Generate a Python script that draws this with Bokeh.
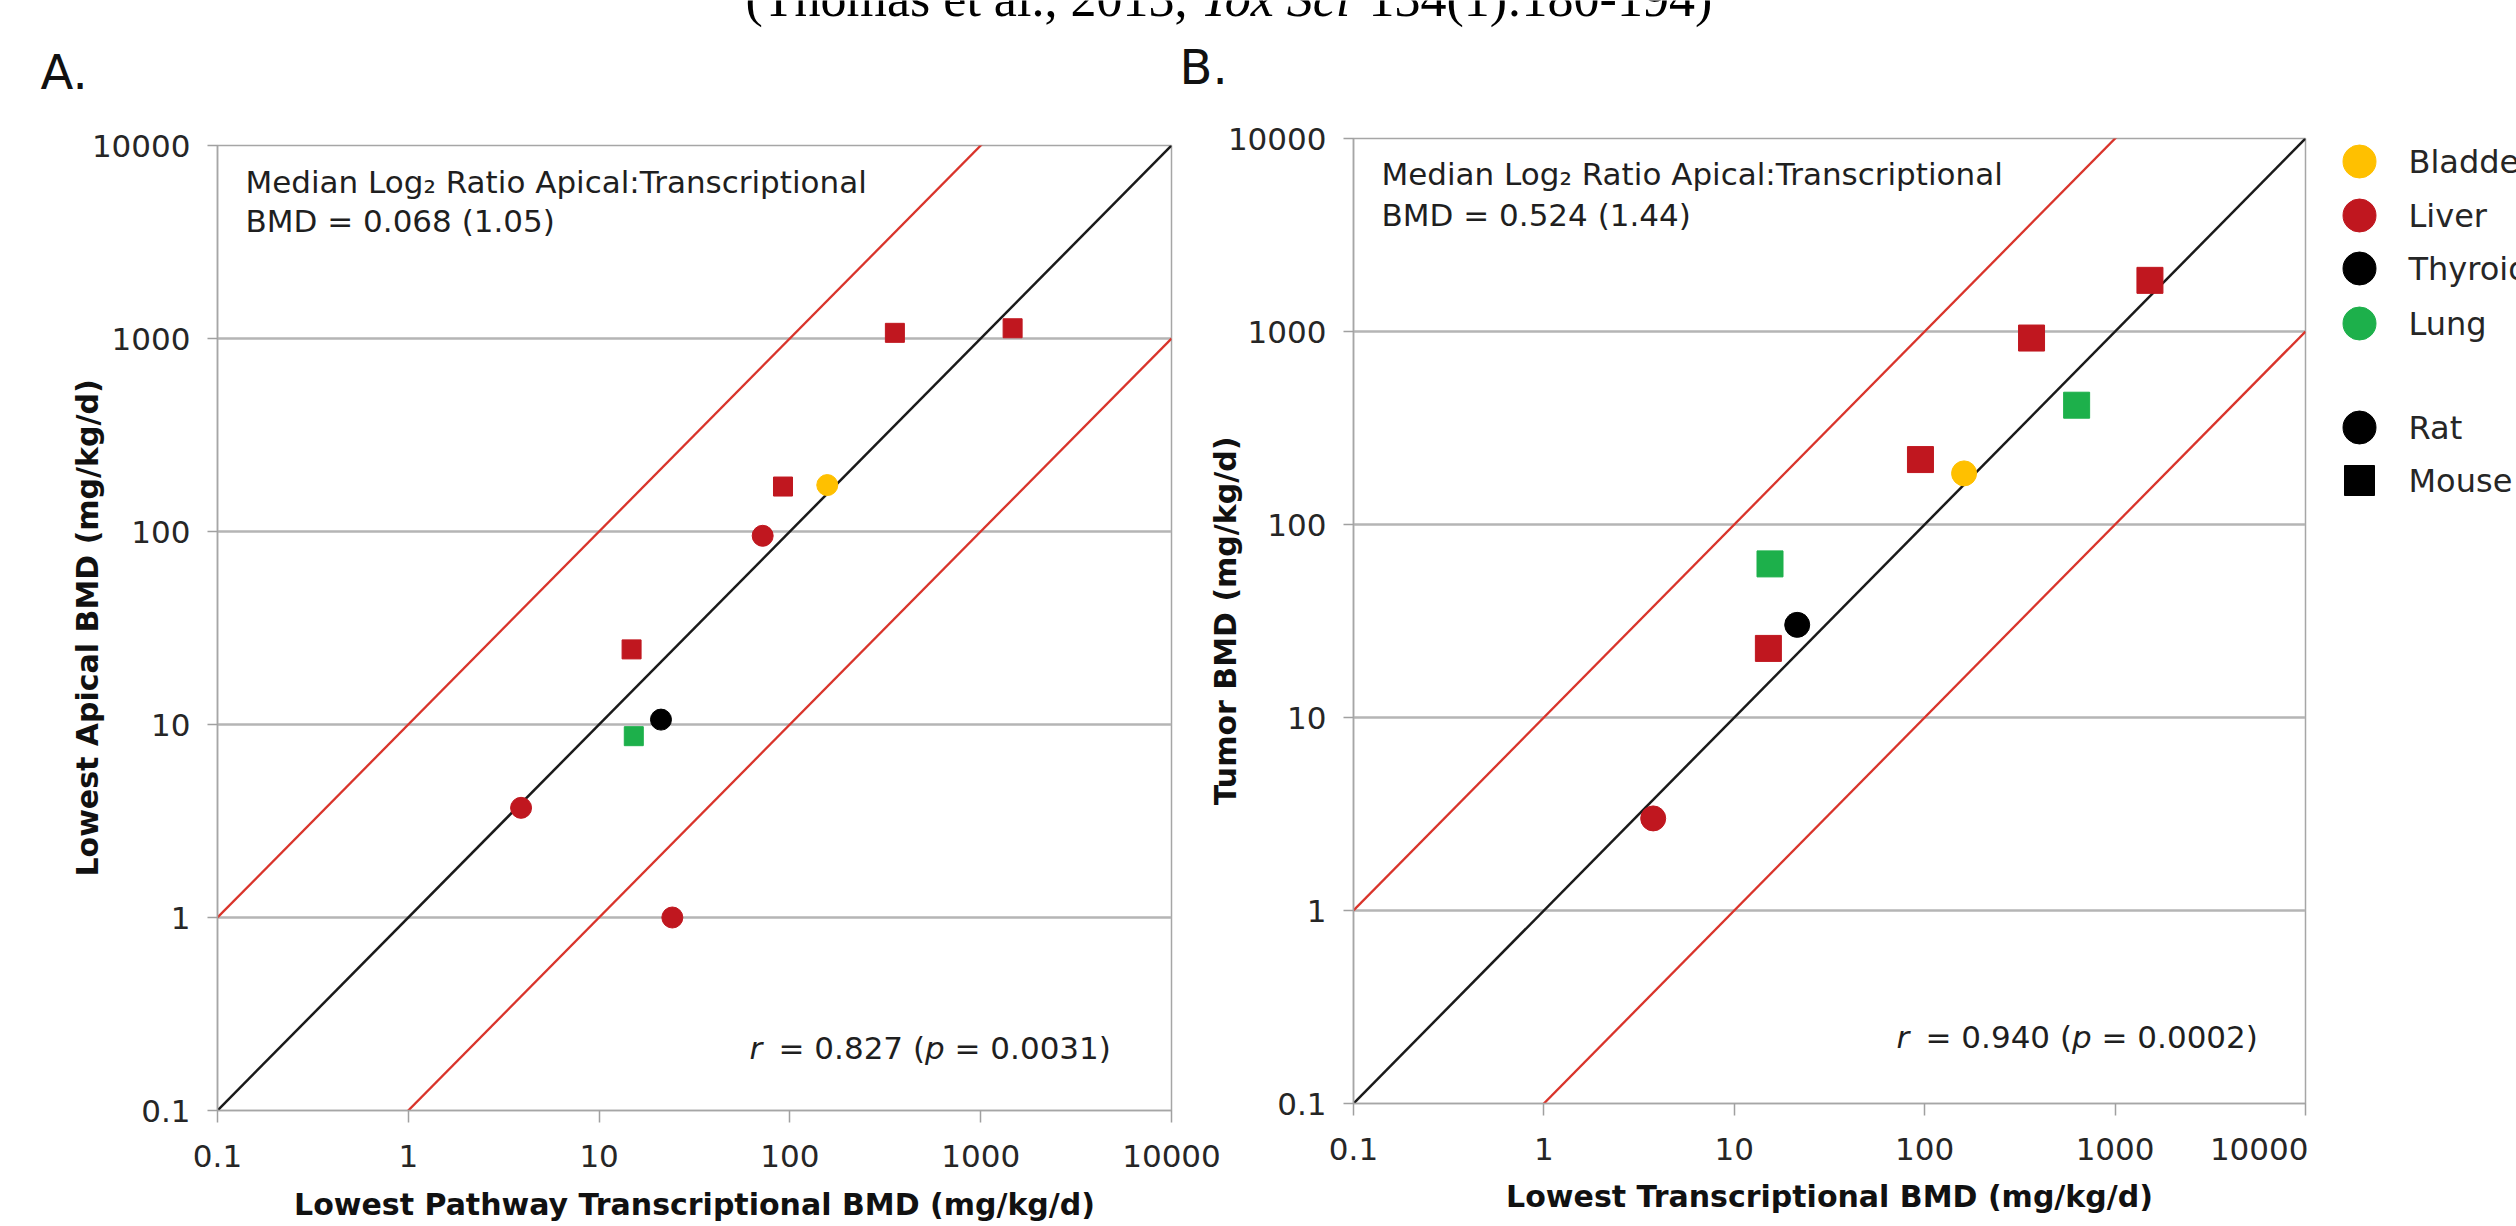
import math
from bokeh.plotting import figure
from bokeh.models import ColumnDataSource, FixedTicker, Label, Range1d
from bokeh.layouts import row, column
from bokeh.core.properties import value
from bokeh.embed import file_html
from bokeh.resources import INLINE

# ---------------- data ----------------
TICK_VALUES = [0.1, 1, 10, 100, 1000, 10000]
TICK_LABELS = ["0.1", "1", "10", "100", "1000", "10000"]
TISSUES = ["Bladder", "Liver", "Thyroid", "Lung"]
SPECIES = ["Rat", "Mouse"]

A_X = [355, 1470, 92, 157, 72, 14.8, 21.1, 15.2, 3.9, 24.2]
A_Y = [1070, 1130, 171, 174, 95, 24.5, 10.6, 8.7, 3.7, 1.0]
A_TISSUE = ["Liver", "Liver", "Liver", "Bladder", "Liver", "Liver", "Thyroid", "Lung", "Liver", "Liver"]
A_SPECIES = ["Mouse", "Mouse", "Mouse", "Rat", "Rat", "Mouse", "Rat", "Mouse", "Rat", "Rat"]

B_X = [1524, 364, 628, 95, 161, 15.4, 21.4, 15.1, 3.75]
B_Y = [1841, 925, 415, 217, 184, 62.5, 30.2, 22.8, 3.0]
B_TISSUE = ["Liver", "Liver", "Lung", "Liver", "Bladder", "Lung", "Thyroid", "Liver", "Liver"]
B_SPECIES = ["Mouse", "Mouse", "Mouse", "Mouse", "Rat", "Mouse", "Rat", "Mouse", "Rat"]

REF_X = [0.1, 10000]
REF_FACTORS = [10, 1, 0.1]

TITLE_PARTS = ["(Thomas et al., 2013,", "Tox Sci", "134(1):180-194)"]
PANEL_LETTERS = ["A.", "B."]
A_NOTE = ["Median Log\u2082 Ratio Apical:Transcriptional", "BMD = 0.068 (1.05)"]
B_NOTE = ["Median Log\u2082 Ratio Apical:Transcriptional", "BMD = 0.524 (1.44)"]
A_STAT = ["r", "= 0.827 (", "p", "= 0.0031)"]
B_STAT = ["r", "= 0.940 (", "p", "= 0.0002)"]
A_XLABEL = "Lowest Pathway Transcriptional BMD (mg/kg/d)"
A_YLABEL = "Lowest Apical BMD (mg/kg/d)"
B_XLABEL = "Lowest Transcriptional BMD (mg/kg/d)"
B_YLABEL = "Tumor BMD (mg/kg/d)"

# ---------------- styles / layout ----------------
FONT = "DejaVu Sans"
TEXT = "#1f1f1f"
TISSUE_COLORS = {"Bladder": "#FFC000", "Liver": "#C0171F", "Thyroid": "#000000", "Lung": "#1DB04B"}
SPECIES_MARKERS = {"Rat": "circle", "Mouse": "square"}
PAGE_W = 2516
ROW_TOP = 100          # title strip height
FIG_H = 1119
BORDER_TOP = 38
BORDER_BOTTOM = 116
STAT_OFFSETS = [0, 29, 175.5, 205]
BASELINE_FIX = 0.42    # renderer places alphabetic baseline ~0.42em lower


def add_text(p, x, y_px, text, size, to_data, align="left", style="normal",
             font=FONT, color=TEXT):
    """y_px: wanted baseline in page pixels; to_data converts page px -> data."""
    y = to_data(y_px - BASELINE_FIX * size)
    p.add_layout(Label(x=x, y=y, text=text, text_font=font, text_font_size=f"{size}px",
                       text_font_style=style, text_align=align, text_baseline="alphabetic",
                       text_color=color))


def panel(cx, top, width, L, R, xs, ys, tissues, species, sizes,
          note, note_pos, stat, stat_pos, xlabel, ylabel, xl_standoff, yl_standoff):
    T = top + BORDER_TOP
    B = top + FIG_H - BORDER_BOTTOM
    fx = lambda px: 10 ** (-1 + 5.0 * (px - L) / (R - L))
    fy = lambda py: 10 ** (-1 + 5.0 * (B - py) / (B - T))
    p = figure(width=width, height=FIG_H, x_axis_type="log", y_axis_type="log",
               x_range=Range1d(0.1, 10000), y_range=Range1d(0.1, 10000),
               output_backend="svg", toolbar_location=None, title=None,
               min_border_left=L - cx, min_border_right=cx + width - R,
               min_border_top=BORDER_TOP, min_border_bottom=BORDER_BOTTOM,
               border_fill_color=None, outline_line_color="#A6A6A6", outline_line_width=1.5)
    for ax in (p.xaxis[0], p.yaxis[0]):
        ax.ticker = FixedTicker(ticks=TICK_VALUES)
        ax.major_label_overrides = dict(zip(TICK_VALUES, TICK_LABELS))
        ax.minor_tick_line_color = None
        ax.major_tick_in = 0
        ax.major_tick_line_color = "#A0A0A0"
        ax.major_tick_line_width = 1.5
        ax.axis_line_color = "#A6A6A6"
        ax.axis_line_width = 1.5
        ax.major_label_text_font = FONT
        ax.major_label_text_font_size = "31px"
        ax.major_label_text_color = "#262626"
        ax.axis_label_text_font = FONT
        ax.axis_label_text_font_size = "30px"
        ax.axis_label_text_font_style = "bold"
        ax.axis_label_text_color = "#111111"
    p.xaxis.major_tick_out = 12
    p.yaxis.major_tick_out = 10
    p.xaxis.major_label_standoff = 22
    p.yaxis.major_label_standoff = 17
    p.xaxis.axis_label = xlabel
    p.yaxis.axis_label = ylabel
    p.xaxis.axis_label_standoff = xl_standoff
    p.yaxis.axis_label_standoff = yl_standoff
    p.xgrid.visible = False
    p.ygrid.ticker = FixedTicker(ticks=TICK_VALUES)
    p.ygrid.grid_line_color = "#B5B5B5"
    p.ygrid.grid_line_width = 2.5

    for k, col, w in zip(REF_FACTORS, ["#D9342B", "#1A1A1A", "#D9342B"], [2.3, 2.5, 2.3]):
        p.line(REF_X, [k * x for x in REF_X], line_color=col, line_width=w)

    src = ColumnDataSource(dict(
        x=xs, y=ys,
        color=[TISSUE_COLORS[t] for t in tissues],
        marker=[SPECIES_MARKERS[s] for s in species],
        size=[sizes[s] for s in species]))
    p.scatter("x", "y", source=src, marker="marker", size="size",
              fill_color="color", line_color="color")

    nx, ny1, ny2 = note_pos
    add_text(p, fx(nx), ny1, note[0], 31, fy)
    add_text(p, fx(nx), ny2, note[1], 31, fy)
    sx, sy = stat_pos
    for txt, off in zip(stat, STAT_OFFSETS):
        style = "italic" if txt in ("r", "p") else "normal"
        add_text(p, fx(sx + off), sy, txt, 31, fy, style=style)
    return p


A_SHIFT = 7
pA = panel(0, ROW_TOP + A_SHIFT, 1230, 217, 1171, A_X, A_Y, A_TISSUE, A_SPECIES,
           {"Rat": 21, "Mouse": 19}, A_NOTE, (245, 195, 234),
           A_STAT, (749, 1061), A_XLABEL, A_YLABEL, 17, -16)
pA.margin = (A_SHIFT, 0, 0, 0)
pB = panel(1175, ROW_TOP, 1133, 1353, 2305, B_X, B_Y, B_TISSUE, B_SPECIES,
           {"Rat": 25, "Mouse": 26}, B_NOTE, (1381, 187, 228),
           B_STAT, (1896, 1050), B_XLABEL, B_YLABEL, 16, -18)
pB.margin = (0, 0, 0, -55)

# legend column (ranges expressed in page pixels)
L0 = 2308
LW = PAGE_W - L0
pL = figure(width=LW, height=FIG_H,
            x_range=Range1d(L0, PAGE_W),
            y_range=Range1d(ROW_TOP + FIG_H - BORDER_BOTTOM, ROW_TOP + BORDER_TOP),
            x_axis_type=None, y_axis_type=None, min_border_left=0, min_border_right=0,
            min_border_top=BORDER_TOP, min_border_bottom=BORDER_BOTTOM,
            outline_line_color=None, toolbar_location=None, output_backend="svg",
            title=None, border_fill_color=None)
leg_labels = TISSUES + SPECIES
leg_y = [161, 215, 268, 323, 427, 480]
leg_src = ColumnDataSource(dict(
    x=[2359] * len(leg_labels), y=leg_y,
    color=[TISSUE_COLORS[t] for t in TISSUES] + ["#000000", "#000000"],
    marker=["circle"] * len(TISSUES) + [SPECIES_MARKERS[s] for s in SPECIES],
    size=[33] * len(TISSUES) + [33, 30]))
pL.scatter("x", "y", source=leg_src, marker="marker", size="size",
           fill_color="color", line_color="color")
pL.text(x=[2408] * len(leg_labels), y=leg_y, text=leg_labels, text_font=value(FONT),
        text_font_size=value("32px"), text_baseline="middle", text_color="#262626")

# title strip with panel letters (ranges in page pixels)
pT = figure(width=PAGE_W, height=ROW_TOP, x_range=Range1d(0, PAGE_W), y_range=Range1d(ROW_TOP, 0),
            x_axis_type=None, y_axis_type=None, min_border=0, outline_line_color=None,
            toolbar_location=None, output_backend="svg", title=None, border_fill_color=None)
ident = lambda v: v
for txt, px, style in zip(TITLE_PARTS, [745, 1200, 1368], ["normal", "italic", "normal"]):
    add_text(pT, px, 20, txt, 52, ident, style=style, font="Liberation Serif", color="#000000")
for txt, px, py in zip(PANEL_LETTERS, [40, 1179], [92, 87]):
    add_text(pT, px, py, txt, 48, ident, color="#111111")

layout = column(pT, row(pA, pB, pL))
open("out.html", "w").write(file_html(layout, INLINE))
